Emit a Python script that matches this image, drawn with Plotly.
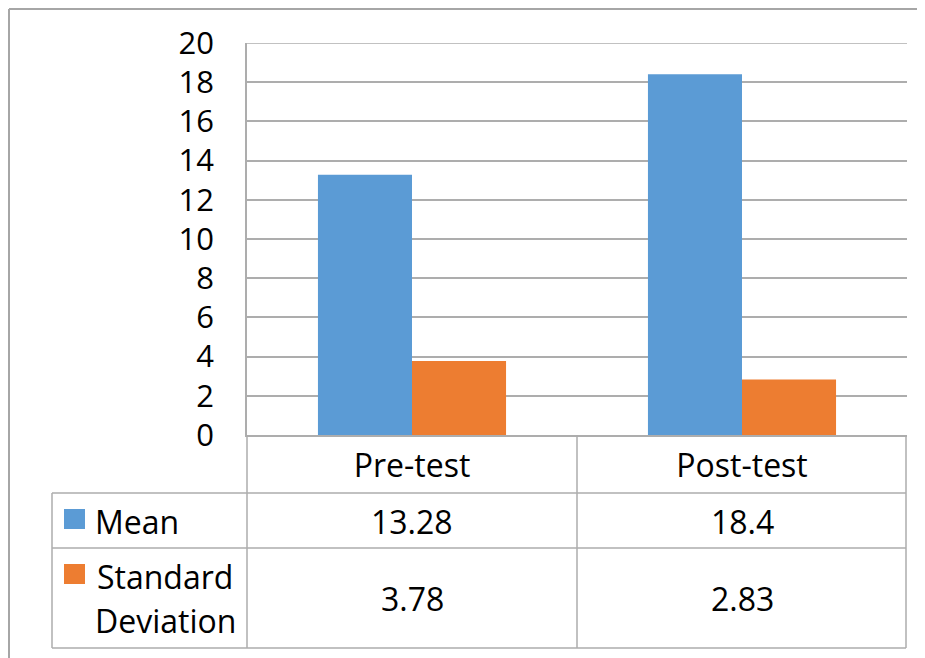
import plotly.graph_objects as go

categories = ["Pre-test", "Post-test"]
series_names = ["Mean", "Standard Deviation"]
mean_values = [13.28, 18.4]
sd_values = [3.78, 2.83]
colors = ["#5B9BD5", "#ED7D31"]
y_ticks = list(range(0, 21, 2))

OFF = 8  # browser body margin
W, H = 925 - OFF, 658 - OFF
L, R, T, B = 247, 907, 43, 435  # plot area in reference pixels

def px(x):
    return (x - L) / (R - L)

def py(y):
    return (B - y) / (B - T)

FONT = "'Open Sans', 'Noto Sans', sans-serif"
FS = 31
FS_T = 32
GRID = "#ADADAD"

fig = go.Figure()
for name, vals, col in zip(series_names, [mean_values, sd_values], colors):
    fig.add_trace(go.Bar(x=categories, y=vals, name=name, marker=dict(color=col, line=dict(width=0)),
                         showlegend=False))

shapes = []
def line(x0, y0, x1, y1, color=GRID, width=1.5):
    shapes.append(dict(type="line", xref="paper", yref="paper", x0=px(x0), y0=py(y0), x1=px(x1), y1=py(y1),
                       line=dict(color=color, width=width), layer="above"))

# outer chart border
line(9, 9, 1000, 9, "#A6A6A6", 2)
line(9, 9, 9, 700, "#A6A6A6", 2)
# top gridline at max of axis
shapes.append(dict(type="line", xref="paper", yref="y", x0=0, x1=1, y0=y_ticks[-1], y1=y_ticks[-1],
                   line=dict(color=GRID, width=1.5), layer="below"))
# table lines
for yy in [493, 548, 648]:
    line(52, yy, 906, yy)
line(52, 493, 52, 648)
line(247, 435, 247, 648)
line(577, 435, 577, 648)
line(906, 435, 906, 648)

annotations = []
col_centers = [412, 742]
row_centers = [521, 598]
all_vals = [mean_values, sd_values]
for r, vals in enumerate(all_vals):
    for c, v in enumerate(vals):
        annotations.append(dict(xref="paper", yref="paper", x=px(col_centers[c]), y=py(row_centers[r]),
                                text=str(v), showarrow=False, xanchor="center", yanchor="middle",
                                font=dict(family=FONT, size=FS_T, color="#000")))
# legend keys
key_rows = [(509, 529), (564, 584)]
for (y0, y1), col in zip(key_rows, colors):
    shapes.append(dict(type="rect", xref="paper", yref="paper", x0=px(64), x1=px(85), y0=py(y1), y1=py(y0),
                       fillcolor=col, line=dict(width=0)))
annotations.append(dict(xref="paper", yref="paper", x=px(93), y=py(521), text=series_names[0], showarrow=False,
                        xanchor="left", yanchor="middle", font=dict(family=FONT, size=FS_T, color="#000")))
sd_words = series_names[1].split(" ")
annotations.append(dict(xref="paper", yref="paper", x=px(95), y=py(576), text=sd_words[0], showarrow=False,
                        xanchor="left", yanchor="middle", font=dict(family=FONT, size=FS_T, color="#000")))
annotations.append(dict(xref="paper", yref="paper", x=px(93), y=py(620), text=sd_words[1], showarrow=False,
                        xanchor="left", yanchor="middle", font=dict(family=FONT, size=FS_T, color="#000")))

fig.update_layout(
    width=W, height=H,
    margin=dict(l=L - OFF, r=W - (R - OFF), t=T - OFF, b=H - (B - OFF)),
    paper_bgcolor="white", plot_bgcolor="white",
    barmode="group", bargap=0.43, bargroupgap=0,
    shapes=shapes, annotations=annotations,
    font=dict(family=FONT, size=FS, color="#000"),
    xaxis=dict(showgrid=False, showline=True, linecolor=GRID, linewidth=1.5, ticks="",
               tickfont=dict(family=FONT, size=FS_T, color="#000"), ticklabelstandoff=2),
    yaxis=dict(range=[0, 20], tickvals=y_ticks, showgrid=True, gridcolor=GRID, gridwidth=1.5,
               showline=True, linecolor=GRID, linewidth=1.5, zeroline=False, ticks="",
               tickfont=dict(family=FONT, size=FS, color="#000"), ticklabelstandoff=25),
)
fig.write_html("out.html")
